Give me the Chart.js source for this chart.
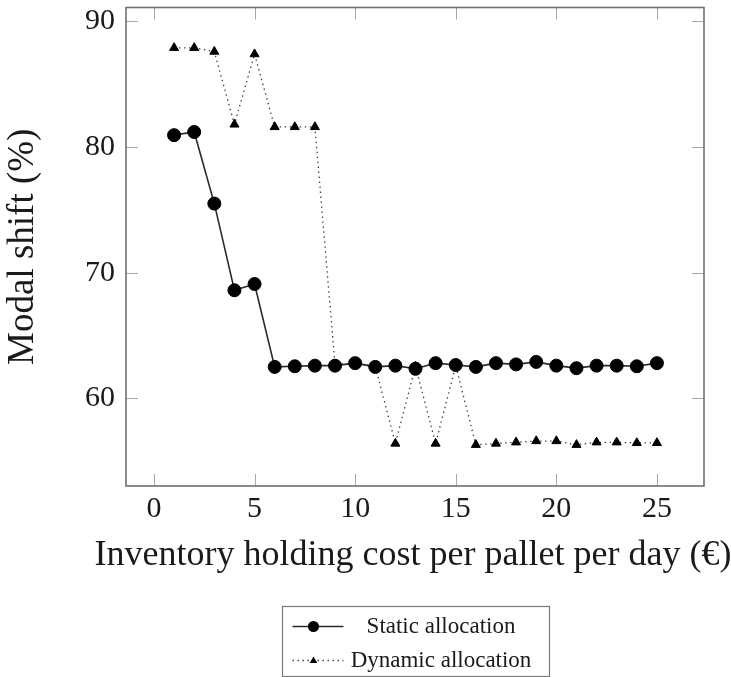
<!DOCTYPE html>
<html>
<head>
<meta charset="utf-8">
<script src="https://cdn.jsdelivr.net/npm/chart.js@4/dist/chart.umd.min.js"></script>
<style>
html, body { margin: 0; padding: 0; background: #ffffff; }
#wrap { width: 731px; height: 677px; }
</style>
</head>
<body>
<div id="wrap"><canvas id="chart" width="731" height="677"></canvas></div>
<script>
// ---- data ----
const costs = [1, 2, 3, 4, 5, 6, 7, 8, 9, 10, 11, 12, 13, 14, 15, 16, 17, 18, 19, 20, 21, 22, 23, 24, 25];
const staticShift = [80.95, 81.2, 75.5, 68.6, 69.1, 62.5, 62.55, 62.6, 62.6, 62.8, 62.5, 62.6, 62.35, 62.8, 62.65, 62.5, 62.8, 62.7, 62.9, 62.6, 62.4, 62.6, 62.6, 62.55, 62.8];
const dynamicShift = [87.9, 87.9, 87.6, 81.8, 87.4, 81.6, 81.6, 81.6, 62.7, 62.8, 62.55, 56.4, 62.55, 56.4, 62.6, 56.3, 56.4, 56.5, 56.6, 56.6, 56.3, 56.5, 56.5, 56.45, 56.45];
const xTickValues = [0, 5, 10, 15, 20, 25];
const yTickValues = [60, 70, 80, 90];
const seriesLabels = ['Static allocation', 'Dynamic allocation'];
const xTitle = 'Inventory holding cost per pallet per day (€)';
const yTitle = 'Modal shift (%)';

// ---- styling ----
const FONT = '"Liberation Serif", "Times New Roman", serif';
const TEXT = '#1a1a1a';

const toPoints = (xs, ys) => xs.map((x, i) => ({ x: x, y: ys[i] }));

// Frame + inward ticks on all four sides (pgfplots style)
const framePlugin = {
  id: 'frame',
  beforeDatasetsDraw(chart) {
    const { ctx, chartArea: a, scales } = chart;
    ctx.save();
    ctx.strokeStyle = '#a8a8a8';
    ctx.lineWidth = 1;
    const tl = 12;
    scales.x.ticks.forEach(t => {
      const px = Math.round(scales.x.getPixelForValue(t.value)) + 0.5;
      ctx.beginPath();
      ctx.moveTo(px, a.bottom); ctx.lineTo(px, a.bottom - tl);
      ctx.moveTo(px, a.top); ctx.lineTo(px, a.top + tl);
      ctx.stroke();
    });
    scales.y.ticks.forEach(t => {
      const py = Math.round(scales.y.getPixelForValue(t.value)) + 0.5;
      ctx.beginPath();
      ctx.moveTo(a.left, py); ctx.lineTo(a.left + tl, py);
      ctx.moveTo(a.right, py); ctx.lineTo(a.right - tl, py);
      ctx.stroke();
    });
    ctx.strokeStyle = '#707070';
    ctx.lineWidth = 1.6;
    ctx.strokeRect(a.left, a.top, a.right - a.left, a.bottom - a.top);
    ctx.restore();
  }
};

// x-axis title (drawn wider than the plot area, as in the reference)
const xTitlePlugin = {
  id: 'xTitle',
  afterDraw(chart) {
    const { ctx, chartArea: a } = chart;
    ctx.save();
    ctx.fillStyle = TEXT;
    ctx.font = '36px ' + FONT;
    ctx.textAlign = 'center';
    ctx.textBaseline = 'alphabetic';
    ctx.fillText(xTitle, (a.left + a.right) / 2 - 2, a.bottom + 79);
    ctx.restore();
  }
};

// Boxed legend below the plot (line sample + marker + label)
const legendPlugin = {
  id: 'boxLegend',
  afterDraw(chart) {
    const { ctx, chartArea: a } = chart;
    const cx = (a.left + a.right) / 2;
    const w = 267, h = 70;
    const left = Math.round(cx - w / 2) + 0.5;
    const top = Math.round(a.bottom) + 120.5;
    ctx.save();
    ctx.strokeStyle = '#7a7a7a';
    ctx.lineWidth = 1.2;
    ctx.strokeRect(left, top, w, h);
    const rows = [top + 20, top + 54];
    chart.data.datasets.forEach((ds, i) => {
      const y = rows[i];
      const x0 = left + 10, x1 = left + 61, mx = left + 31;
      ctx.strokeStyle = ds.borderColor;
      ctx.lineWidth = ds.borderWidth;
      ctx.setLineDash(ds.borderDash || []);
      ctx.beginPath(); ctx.moveTo(x0, y); ctx.lineTo(x1, y); ctx.stroke();
      ctx.setLineDash([]);
      ctx.fillStyle = '#000';
      ctx.beginPath();
      if (ds.pointStyle === 'triangle') {
        const r = 4;
        ctx.moveTo(mx, y - r);
        ctx.lineTo(mx + r * 0.95, y + r * 0.6);
        ctx.lineTo(mx - r * 0.95, y + r * 0.6);
        ctx.closePath();
      } else {
        ctx.arc(mx, y, 5.5, 0, Math.PI * 2);
      }
      ctx.fill();
      ctx.fillStyle = TEXT;
      ctx.font = '23px ' + FONT;
      ctx.textAlign = 'center';
      ctx.textBaseline = 'middle';
      ctx.fillText(ds.label, cx + 26, y);
    });
    ctx.restore();
  }
};

new Chart(document.getElementById('chart'), {
  type: 'line',
  data: {
    datasets: [
      {
        label: seriesLabels[0],
        data: toPoints(costs, staticShift),
        borderColor: '#2a2a2a',
        borderWidth: 1.6,
        pointStyle: 'circle',
        pointRadius: 6.5,
        pointBorderWidth: 1,
        pointBackgroundColor: '#000',
        pointBorderColor: '#000',
        tension: 0
      },
      {
        label: seriesLabels[1],
        data: toPoints(costs, dynamicShift),
        borderColor: '#3a3a3a',
        borderWidth: 1.3,
        borderDash: [1.4, 3.6],
        pointStyle: 'triangle',
        pointRadius: 5.2,
        pointBorderWidth: 1,
        pointBackgroundColor: '#000',
        pointBorderColor: '#000',
        tension: 0
      }
    ]
  },
  options: {
    responsive: false,
    animation: false,
    devicePixelRatio: 1,
    layout: { padding: { top: 6, right: 27, left: 0, bottom: 0 } },
    plugins: { legend: { display: false }, tooltip: { enabled: false } },
    scales: {
      x: {
        type: 'linear',
        min: -1.39,
        max: 27.34,
        afterBuildTicks: s => { s.ticks = xTickValues.map(v => ({ value: v })); },
        afterFit: s => { s.height = 191; s.paddingLeft = 0; s.paddingRight = 0; },
        grid: { display: false, drawTicks: false },
        border: { display: false },
        ticks: { padding: 5, autoSkip: false, maxRotation: 0, color: TEXT, font: { family: FONT, size: 30 } },
        title: { display: false, text: xTitle }
      },
      y: {
        type: 'linear',
        min: 53.02,
        max: 91.11,
        afterBuildTicks: s => { s.ticks = yTickValues.map(v => ({ value: v })); },
        afterFit: s => { s.width = 126; s.paddingTop = 0; s.paddingBottom = 0; },
        grid: { display: false, drawTicks: false },
        border: { display: false },
        ticks: { padding: 11, color: TEXT, font: { family: FONT, size: 30 } },
        title: { display: true, text: yTitle, color: TEXT, font: { family: FONT, size: 37 }, padding: { top: 1, bottom: 0 } }
      }
    }
  },
  plugins: [framePlugin, xTitlePlugin, legendPlugin]
});
</script>
</body>
</html>
